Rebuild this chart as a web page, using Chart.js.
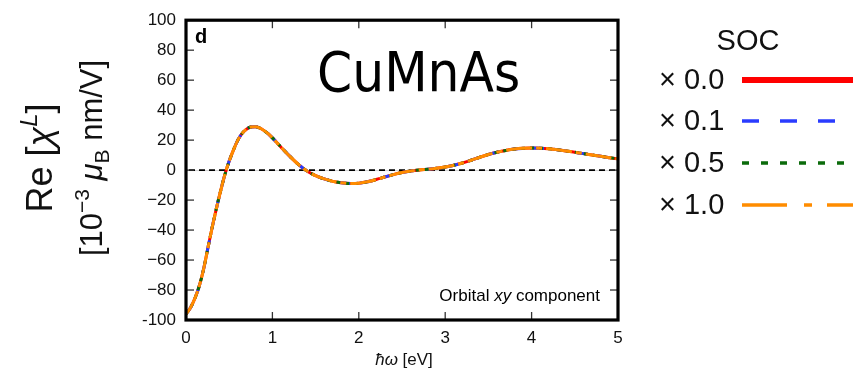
<!DOCTYPE html>
<html>
<head>
<meta charset="utf-8">
<script src="https://cdn.jsdelivr.net/npm/chart.js@4/dist/chart.umd.min.js"></script>
<style>
  html, body { margin: 0; padding: 0; background: #ffffff; }
  #wrap { width: 861px; height: 373px; position: relative; }
</style>
</head>
<body>
<div id="wrap"><canvas id="c" width="861" height="373"></canvas></div>
<script>
// ---- data ----
const energyEV = [0.0,0.05,0.1,0.15,0.2,0.25,0.3,0.35,0.4,0.45,0.5,0.55,0.6,0.65,0.7,0.75,0.8,0.85,0.9,0.95,
  1.0,1.1,1.2,1.3,1.4,1.5,1.6,1.7,1.8,1.9,2.0,2.1,2.2,2.3,2.4,2.5,2.6,2.7,2.8,2.9,
  3.0,3.1,3.2,3.3,3.4,3.5,3.6,3.7,3.8,3.9,4.0,4.1,4.2,4.3,4.4,4.5,4.6,4.7,4.8,4.9,5.0];
// The four SOC scalings give curves that coincide in the picture
const reChiSoc00 = [-96,-92,-86,-78,-67,-53,-39,-26,-14,-3,6,13.5,20,24.5,27.3,28.7,28.9,28.2,26.5,24.3,
  21.5,15.3,9.3,3.8,-0.6,-3.7,-5.9,-7.5,-8.5,-8.9,-8.7,-7.8,-6.3,-4.6,-3.0,-1.6,-0.6,0.1,0.6,1.2,
  2.0,3.2,4.7,6.6,8.6,10.4,11.9,13.1,14.0,14.5,14.7,14.6,14.2,13.6,12.8,11.9,11.0,10.1,9.2,8.3,7.5];
const reChiSoc01 = reChiSoc00;
const reChiSoc05 = reChiSoc00;
const reChiSoc10 = reChiSoc00;
const seriesLabels = ['× 0.0', '× 0.1', '× 0.5', '× 1.0'];
const yTickValues = [-100,-80,-60,-40,-20,0,20,40,60,80,100];
const yTickLabels = ['-100','\u221280','\u221260','\u221240','\u221220','0','20','40','60','80','100'];
const xTickValues = [0,1,2,3,4,5];
const xTickLabels = ['0','1','2','3','4','5'];

const FONT = '"Liberation Sans", Arial, Helvetica, sans-serif';

function pts(ys) { return energyEV.map((x, i) => ({x: x, y: ys[i]})); }

const chartTop = 16, chartBottom = 320, chartLeft = 186, chartRight = 618;

const framePlugin = {
  id: 'frame',
  beforeDatasetsDraw(chart) {
    const ctx = chart.ctx, a = chart.chartArea;
    const xs = chart.scales.x, ys = chart.scales.y;
    ctx.save();
    // faint grey zero line under black dashed zero line
    const y0 = ys.getPixelForValue(0);
    ctx.strokeStyle = '#d0d0d0'; ctx.lineWidth = 1;
    ctx.beginPath(); ctx.moveTo(a.left, y0 + 0.5); ctx.lineTo(a.right, y0 + 0.5); ctx.stroke();
    ctx.strokeStyle = '#000'; ctx.lineWidth = 1.6; ctx.setLineDash([6, 4]);
    ctx.beginPath(); ctx.moveTo(a.left + 3, y0); ctx.lineTo(a.right, y0); ctx.stroke();
    ctx.setLineDash([]);
    // inner ticks on all sides
    ctx.strokeStyle = '#333'; ctx.lineWidth = 1.3;
    const tl = 8;
    ys.ticks.forEach(t => {
      const p = ys.getPixelForValue(t.value);
      ctx.beginPath(); ctx.moveTo(a.left, p); ctx.lineTo(a.left + tl, p); ctx.stroke();
      ctx.beginPath(); ctx.moveTo(a.right, p); ctx.lineTo(a.right - tl, p); ctx.stroke();
    });
    xs.ticks.forEach(t => {
      const p = xs.getPixelForValue(t.value);
      ctx.beginPath(); ctx.moveTo(p, a.bottom); ctx.lineTo(p, a.bottom - tl); ctx.stroke();
      ctx.beginPath(); ctx.moveTo(p, a.top); ctx.lineTo(p, a.top + tl); ctx.stroke();
    });
    ctx.restore();
  },
  afterDatasetsDraw(chart) {
    const ctx = chart.ctx, a = chart.chartArea;
    ctx.save();
    ctx.strokeStyle = '#000'; ctx.lineWidth = 3.2;
    ctx.strokeRect(a.left, a.top, a.right - a.left, a.bottom - a.top);
    // panel letter
    ctx.fillStyle = '#000';
    ctx.font = 'bold 20px ' + FONT;
    ctx.textBaseline = 'alphabetic'; ctx.textAlign = 'left';
    ctx.fillText('d', 195, 43);
    // compound name
    ctx.font = '56px "DejaVu Sans Condensed", "DejaVu Sans", sans-serif';
    ctx.fillText('CuMnAs', 317, 91);
    // component note
    ctx.font = '17px ' + FONT;
    let s1 = 'Orbital ', s2 = 'xy', s3 = ' component';
    ctx.font = '17px ' + FONT; const w1 = ctx.measureText(s1).width, w3 = ctx.measureText(s3).width;
    ctx.font = 'italic 17px ' + FONT; const w2 = ctx.measureText(s2).width;
    let x = 600 - (w1 + w2 + w3);
    ctx.font = '17px ' + FONT; ctx.fillText(s1, x, 301); x += w1;
    ctx.font = 'italic 17px ' + FONT; ctx.fillText(s2, x, 301); x += w2;
    ctx.font = '17px ' + FONT; ctx.fillText(s3, x, 301);
    ctx.restore();
  },
  afterDraw(chart) {
    const ctx = chart.ctx;
    ctx.save();
    ctx.fillStyle = '#111';
    // x-axis title: ħω [eV]
    drawRuns(ctx, [
      {t: '\u0127\u03c9', f: 'italic 17px ' + FONT},
      {t: ' [eV]', f: '17px ' + FONT}
    ], 404, 365, 0);
    // y-axis title (rotated)
    ctx.save();
    ctx.translate(52, 158); ctx.rotate(-Math.PI / 2);
    drawRuns(ctx, [
      {t: 'Re [', f: '36px ' + FONT},
      {t: '\u03c7', f: 'italic 36px ' + FONT},
      {t: 'L', f: 'italic 24px ' + FONT, dy: -15},
      {t: ']', f: '36px ' + FONT}
    ], 0, 0, 0);
    ctx.restore();
    ctx.save();
    ctx.translate(102, 158); ctx.rotate(-Math.PI / 2);
    drawRuns(ctx, [
      {t: '[10', f: '31px ' + FONT},
      {t: '\u22123', f: '21px ' + FONT, dy: -13},
      {t: ' ', f: '31px ' + FONT},
      {t: '\u03bc', f: 'italic 31px ' + FONT},
      {t: 'B', f: '21px ' + FONT, dy: 7},
      {t: ' nm/V]', f: '31px ' + FONT}
    ], 0, 0, 0);
    ctx.restore();
    // legend
    const ds = chart.data.datasets;
    ctx.font = '29px ' + FONT;
    ctx.textAlign = 'center'; ctx.textBaseline = 'middle';
    ctx.fillText('SOC', 748, 42);
    const rows = [80, 121, 163, 205];
    for (let i = 0; i < 4; i++) {
      const d = ds[i];
      ctx.textAlign = 'left';
      ctx.fillStyle = '#111';
      ctx.fillText(d.label, 659, rows[i] + 1);
      ctx.strokeStyle = d.borderColor;
      ctx.lineWidth = d.legendWidth;
      ctx.setLineDash(d.legendDash);
      ctx.beginPath(); ctx.moveTo(742, rows[i]); ctx.lineTo(853, rows[i]); ctx.stroke();
      ctx.setLineDash([]);
    }
    ctx.restore();
  }
};

function drawRuns(ctx, runs, cx, by, _) {
  let total = 0;
  runs.forEach(r => { ctx.font = r.f; r.w = ctx.measureText(r.t).width; total += r.w; });
  let x = cx - total / 2;
  ctx.textAlign = 'left'; ctx.textBaseline = 'alphabetic';
  runs.forEach(r => { ctx.font = r.f; ctx.fillText(r.t, x, by + (r.dy || 0)); x += r.w; });
}

const cfg = {
  type: 'line',
  data: {
    datasets: [
      {label: seriesLabels[0], data: pts(reChiSoc00), borderColor: '#ff0000', borderWidth: 3,
       borderDash: [], legendDash: [], legendWidth: 6, order: 4},
      {label: seriesLabels[1], data: pts(reChiSoc01), borderColor: '#2a3cff', borderWidth: 3,
       borderDash: [12, 10], legendDash: [17, 21], legendWidth: 3.5, order: 3},
      {label: seriesLabels[2], data: pts(reChiSoc05), borderColor: '#0b6b0b', borderWidth: 3,
       borderDash: [4, 5], legendDash: [7, 12], legendWidth: 3.5, order: 2},
      {label: seriesLabels[3], data: pts(reChiSoc10), borderColor: '#ff8c00', borderWidth: 3,
       borderDash: [26, 4, 6, 4], legendDash: [45, 17, 8, 15], legendWidth: 3.5, order: 1}
    ]
  },
  options: {
    responsive: false,
    animation: false,
    parsing: true,
    layout: { padding: { left: 0, top: chartTop, right: 861 - chartRight, bottom: 0 } },
    elements: { point: { radius: 0 }, line: { cubicInterpolationMode: 'monotone', capStyle: 'butt' } },
    plugins: { legend: { display: false }, tooltip: { enabled: false }, title: { display: false } },
    scales: {
      x: {
        type: 'linear', min: 0, max: 5,
        grid: { display: false, drawTicks: false },
        border: { display: false },
        afterBuildTicks(s) { s.ticks = xTickValues.map(v => ({value: v})); },
        ticks: {
          color: '#111', font: { family: FONT, size: 17 }, padding: 8, maxRotation: 0,
          callback: (v) => xTickLabels[xTickValues.indexOf(v)]
        },
        afterFit(s) { s.height = 373 - chartBottom; }
      },
      y: {
        type: 'linear', min: -100, max: 100,
        grid: { display: false, drawTicks: false },
        border: { display: false },
        afterBuildTicks(s) { s.ticks = yTickValues.map(v => ({value: v})); },
        ticks: {
          color: '#111', font: { family: FONT, size: 17 }, padding: 10,
          callback: (v) => yTickLabels[yTickValues.indexOf(v)]
        },
        afterFit(s) { s.width = chartLeft; }
      }
    }
  },
  plugins: [framePlugin]
};

new Chart(document.getElementById('c'), cfg);
</script>
</body>
</html>
